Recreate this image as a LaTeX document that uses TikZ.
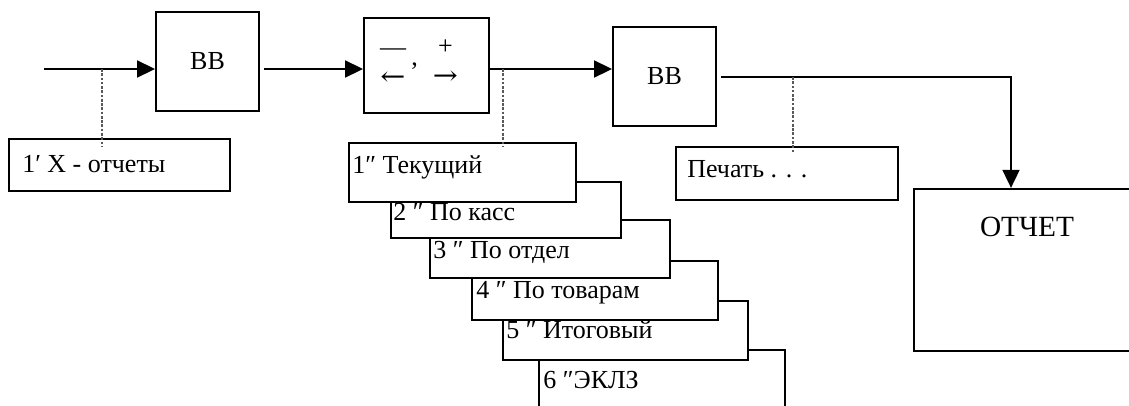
\documentclass[tikz,border=0pt]{standalone}
\usepackage{fontspec}
\usepackage{graphicx}
\setmainfont{Liberation Serif}
\newfontfamily\arrowfont{DejaVu Serif}
\usetikzlibrary{arrows.meta}
\begin{document}
\begin{tikzpicture}[x=0.75pt,y=-0.75pt,
  box/.style={draw, line width=1.3pt, fill=white, inner sep=0pt},
  lbox/.style={draw, line width=1.6pt, fill=white, inner sep=0pt},
  sz/.style 2 args={minimum width=#1*0.75pt, minimum height=#2*0.75pt},
  txt/.style={font=\fontsize{19.5}{22}\selectfont, inner sep=0pt},
  btxt/.style={txt, anchor=base west},
  coltxt/.style={font=\fontsize{19.5}{22.5}\selectfont, inner sep=0pt, align=center, anchor=base},
  arr/.style={line width=2pt, -{Triangle[length=13.5pt,width=12.5pt]}},
  dotl/.style={line width=0.8pt, gray!70!black, dash pattern=on 2pt off 1.2pt}]
\useasboundingbox (0,0) rectangle (1129,405);

% top row boxes
\node[box, sz={103}{99}, txt] (bb1) at (207.5,61.5) {ВВ};
\node[box, sz={125}{95}] (sw) at (426.5,65.5) {};
\node[coltxt] (sl) at (393,85) {—\\\scalebox{1.15}[1]{\arrowfont ←}};
\node[txt] (sc) at (414.5,66) {,};
\node[coltxt] (sr) at (445.5,84) {+\\\scalebox{1.15}[1]{\arrowfont →}};
\node[box, sz={103}{99}, txt] (bb2) at (664.5,76.5) {ВВ};

% report box
\node[lbox, sz={226}{162}] (rep) at (1027,270) {};
\node[txt, anchor=base, font=\fontsize{22}{24}\selectfont] (rept) at (1027,236) {ОТЧЕТ};

% left submenu
\node[lbox, sz={221}{52}] (x1) at (119.5,165) {};
\node[btxt] (x1t) at (22,172) {1′ X - отчеты};

% print box
\node[lbox, sz={222}{53}] (pr) at (787,173.5) {};
\node[btxt] (prt) at (687,177) {Печать . . .};

% stacked list (back to front)
\node[lbox, sz={246}{70}] (t6) at (662,385) {};
\node[btxt] (t6t) at (543,388) {6 ″ЭКЛЗ};
\node[lbox, sz={245}{59}] (t5) at (625.5,330.5) {};
\node[btxt] (t5t) at (506,338) {5 ″ Итоговый};
\node[lbox, sz={246}{59}] (t4) at (595,290.5) {};
\node[btxt] (t4t) at (476,298) {4 ″ По товарам};
\node[lbox, sz={240}{58}] (t3) at (550,249) {};
\node[btxt] (t3t) at (433,258) {3 ″ По отдел};
\node[lbox, sz={230}{56}] (t2) at (506,210) {};
\node[btxt] (t2t) at (393,220) {2 ″ По касс};
\node[lbox, sz={227}{59}] (t1) at (462.5,172.5) {};
\node[btxt] (t1t) at (352,173) {1″ Текущий};

% connectors
\coordinate (in) at (44,69);
\coordinate (corner) at (1011,77);
\draw[arr] (in) -- (in -| bb1.west);
\draw[arr] (bb1.east |- in) ++(4,0) -- (sw.west |- in);
\draw[arr] (sw.east |- in) -- (bb2.west |- in);
\draw[arr] (bb2.east |- corner) ++(4,0) -- (corner) -- (corner |- rep.north);

% dotted leaders
\coordinate (d1) at (102,69);
\coordinate (d2) at (503,69);
\coordinate (d3) at (793,77);
\draw[dotl] (d1) -- ([yshift=-6pt]d1 |- x1.north);
\draw[dotl] (d2) -- ([yshift=-3pt]d2 |- t1.north);
\draw[dotl] (d3) -- ([yshift=-4.5pt]d3 |- pr.north);
\end{tikzpicture}
\end{document}
